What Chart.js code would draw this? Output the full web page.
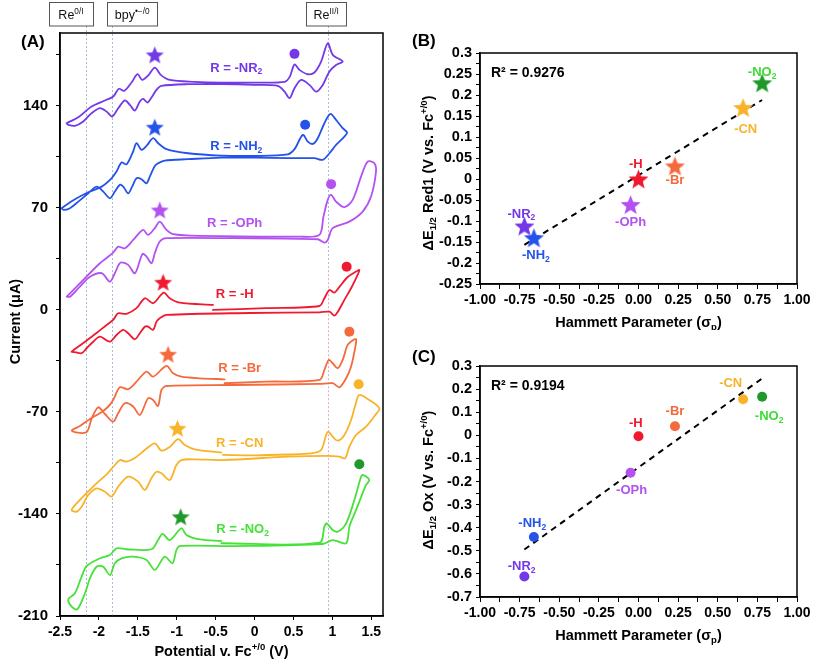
<!DOCTYPE html>
<html><head><meta charset="utf-8">
<script src="https://cdn.jsdelivr.net/npm/chart.js@4.4.1/dist/chart.umd.min.js"></script>
<style>
html,body{margin:0;padding:0;background:#fff;width:813px;height:663px;overflow:hidden}
canvas{position:absolute}
#cA{left:0;top:0}#cB{left:400px;top:0}#cC{left:400px;top:330px}
</style></head><body>
<canvas id="cA" width="400" height="663"></canvas>
<canvas id="cB" width="413" height="330"></canvas>
<canvas id="cC" width="413" height="333"></canvas>
<script>
// ---------- Panel A : cyclic voltammograms, [potential (V vs Fc+/0), current (µA)] ----------
const cvNR2 = [[-2.415,128.1],[-2.265,132.2],[-2.094,139.5],[-1.923,143.7],[-1.816,146.4],[-1.744,151.7],[-1.675,150.3],[-1.581,156.0],[-1.504,161.7],[-1.444,157.8],[-1.368,160.8],[-1.282,166.3],[-1.205,161.3],[-1.090,157.8],[-0.769,156.5],[-0.427,156.0],[0.0,156.0],[0.385,156.5],[0.453,160.1],[0.513,168.4],[0.577,164.7],[0.684,161.7],[0.769,162.9],[0.855,170.4],[0.940,183.0],[1.004,175.0],[1.132,170.4],[1.047,168.1],[0.962,163.6],[0.876,154.4],[0.791,149.8],[0.705,154.4],[0.598,157.8],[0.513,152.1],[0.449,145.3],[0.385,149.8],[0.299,153.7],[0.0,154.4],[-0.427,154.9],[-0.855,154.9],[-1.197,153.7],[-1.261,151.0],[-1.316,146.4],[-1.376,142.3],[-1.432,144.8],[-1.474,143.0],[-1.538,136.8],[-1.603,140.7],[-1.667,143.7],[-1.752,138.4],[-1.829,132.7],[-1.902,136.1],[-1.987,138.4],[-2.094,135.0],[-2.201,129.3],[-2.308,126.3],[-2.393,127.0],[-2.415,128.1]];
const cvNH2 = [[-2.479,69.8],[-2.308,75.9],[-2.137,80.7],[-1.966,84.6],[-1.838,90.3],[-1.774,94.9],[-1.709,101.1],[-1.645,99.9],[-1.560,108.7],[-1.517,114.4],[-1.453,109.8],[-1.389,112.5],[-1.303,117.8],[-1.239,114.4],[-1.132,110.3],[-0.855,107.5],[-0.427,105.9],[0.0,105.7],[0.427,106.8],[0.513,110.3],[0.620,120.1],[0.684,115.5],[0.748,113.9],[0.812,117.8],[0.897,128.1],[0.974,134.5],[1.047,130.4],[1.132,124.7],[1.188,121.7],[1.154,118.9],[1.047,113.2],[0.962,107.5],[0.876,103.0],[0.769,104.1],[0.427,104.1],[0.0,104.5],[-0.427,104.5],[-0.855,103.4],[-1.154,102.5],[-1.239,100.6],[-1.282,98.8],[-1.346,91.5],[-1.389,86.9],[-1.453,89.7],[-1.517,90.3],[-1.573,84.6],[-1.624,80.0],[-1.688,84.6],[-1.731,85.8],[-1.795,81.2],[-1.859,76.6],[-1.944,81.2],[-2.030,84.6],[-2.137,80.0],[-2.265,74.3],[-2.372,69.8],[-2.457,68.6],[-2.479,69.8]];
const cvOPh = [[-2.414,9.1],[-2.201,20.6],[-1.987,32.0],[-1.817,39.3],[-1.753,43.4],[-1.667,42.3],[-1.560,48.0],[-1.432,54.9],[-1.368,51.5],[-1.282,56.1],[-1.218,60.6],[-1.132,54.9],[-1.047,52.0],[-0.705,50.8],[0.577,50.3],[0.833,51.5],[0.885,64.0],[0.940,75.5],[0.983,78.9],[1.047,74.3],[1.154,70.5],[1.260,75.5],[1.368,91.5],[1.453,101.8],[1.538,100.7],[1.560,94.9],[1.496,77.8],[1.389,67.5],[1.218,60.6],[1.004,56.1],[0.940,48.0],[0.897,46.2],[0.812,48.5],[-0.278,49.2],[-1.132,49.2],[-1.218,46.9],[-1.282,38.9],[-1.324,32.0],[-1.388,36.6],[-1.440,38.4],[-1.538,25.2],[-1.624,30.9],[-1.722,32.5],[-1.795,25.2],[-1.859,19.4],[-1.965,25.2],[-2.115,22.8],[-2.244,16.0],[-2.372,9.1],[-2.414,9.1]];
const cvH = [[-0.535,0.0],[0.150,1.2],[0.833,2.7],[0.897,8.0],[0.962,13.7],[1.026,11.9],[1.090,15.8],[1.196,22.6],[1.304,26.3],[1.346,27.4],[1.324,24.0],[1.240,14.9],[1.154,6.9],[1.068,-1.4],[1.026,-3.9],[0.962,-1.2],[0.833,-1.7],[-0.064,-2.1],[-1.132,-3.4],[-1.218,-5.7],[-1.260,-8.0],[-1.304,-13.7],[-1.368,-11.5],[-1.410,-11.5],[-1.474,-16.0],[-1.538,-20.1],[-1.624,-16.0],[-1.688,-13.7],[-1.773,-17.2],[-1.859,-21.8],[-1.987,-18.3],[-2.073,-21.8],[-2.158,-26.3],[-2.222,-29.7],[-2.308,-29.0],[-2.350,-28.6],[-2.201,-22.7],[-2.030,-15.8],[-1.901,-10.3],[-1.817,-6.9],[-1.753,-2.3],[-1.645,-2.7],[-1.517,1.2],[-1.410,8.0],[-1.304,4.6],[-1.167,11.9],[-1.090,8.0],[-0.962,5.0],[-0.535,3.4]];
const cvBr = [[-0.385,-50.3],[0.150,-49.2],[0.833,-48.0],[0.897,-41.2],[0.953,-34.3],[1.004,-36.6],[1.068,-40.0],[1.132,-34.3],[1.196,-24.0],[1.269,-20.6],[1.304,-20.1],[1.295,-25.2],[1.240,-38.9],[1.176,-46.9],[1.090,-53.1],[1.004,-50.3],[0.833,-50.8],[-0.278,-51.5],[-1.132,-52.2],[-1.196,-54.9],[-1.240,-65.9],[-1.304,-61.8],[-1.368,-60.6],[-1.474,-72.1],[-1.560,-66.3],[-1.667,-64.0],[-1.753,-70.9],[-1.817,-76.7],[-1.923,-71.4],[-2.009,-66.8],[-2.090,-74.1],[-2.154,-83.7],[-2.244,-84.4],[-2.350,-82.8],[-2.244,-79.6],[-2.115,-74.8],[-1.987,-70.9],[-1.885,-66.6],[-1.817,-61.8],[-1.731,-53.1],[-1.624,-54.4],[-1.517,-49.2],[-1.388,-42.3],[-1.304,-45.8],[-1.132,-38.4],[-1.047,-43.5],[-0.940,-45.8],[-0.705,-46.9],[-0.385,-47.6]];
const cvCN = [[-0.406,-99.5],[0.0,-99.8],[0.427,-99.2],[0.727,-98.4],[0.855,-96.1],[0.919,-85.8],[0.949,-83.5],[1.004,-87.0],[1.068,-89.7],[1.154,-85.8],[1.240,-75.5],[1.295,-65.2],[1.346,-58.3],[1.474,-61.8],[1.603,-67.5],[1.551,-72.1],[1.432,-80.1],[1.304,-85.8],[1.218,-93.8],[1.163,-101.8],[1.090,-100.7],[0.940,-100.2],[0.427,-100.7],[-0.406,-103.0],[-0.769,-102.5],[-0.940,-103.0],[-1.004,-106.4],[-1.090,-116.7],[-1.196,-112.1],[-1.260,-111.0],[-1.324,-115.3],[-1.410,-123.5],[-1.496,-117.8],[-1.624,-114.4],[-1.753,-121.3],[-1.837,-128.1],[-1.923,-124.7],[-2.030,-122.4],[-2.137,-127.0],[-2.222,-135.0],[-2.286,-138.4],[-2.350,-137.3],[-2.244,-130.4],[-2.051,-120.1],[-1.885,-111.9],[-1.795,-106.4],[-1.731,-103.0],[-1.645,-104.1],[-1.538,-101.6],[-1.410,-96.1],[-1.282,-91.5],[-1.196,-96.6],[-1.090,-94.0],[-0.983,-88.7],[-0.897,-92.7],[-0.769,-95.6],[-0.427,-97.9]];
const cvNO2 = [[-0.427,-160.1],[0.833,-159.7],[0.897,-148.7],[0.927,-146.4],[1.004,-151.0],[1.068,-152.2],[1.176,-146.4],[1.282,-130.4],[1.368,-114.4],[1.389,-113.2],[1.474,-116.7],[1.432,-120.1],[1.304,-137.3],[1.218,-148.7],[1.176,-160.1],[1.004,-157.9],[0.876,-160.6],[-0.278,-162.0],[-0.962,-162.0],[-1.004,-164.7],[-1.055,-173.8],[-1.154,-169.3],[-1.282,-178.4],[-1.388,-171.6],[-1.560,-169.3],[-1.709,-170.4],[-1.795,-173.8],[-1.859,-181.9],[-1.945,-176.2],[-2.030,-176.2],[-2.115,-184.1],[-2.179,-194.4],[-2.278,-205.4],[-2.350,-203.6],[-2.394,-198.6],[-2.308,-194.4],[-2.222,-183.0],[-2.158,-175.7],[-1.987,-170.4],[-1.859,-168.1],[-1.773,-163.6],[-1.645,-164.2],[-1.324,-164.2],[-1.240,-157.9],[-1.183,-153.7],[-1.090,-157.9],[-0.940,-149.8],[-0.876,-154.4],[-0.705,-157.4],[-0.427,-158.5]];
const red1PeakA = [[-1.282,175.0],[-1.282,125.4],[-1.218,68.6],[-1.175,19.0],[-1.111,-30.4],[-0.991,-81.2],[-0.949,-141.9]];
const oxPeakA = [[0.513,175.7],[0.650,127.0],[0.983,86.3],[1.183,29.7],[1.218,-14.9],[1.337,-51.0],[1.346,-105.9]];
const xTicksA = [-2.5,-2,-1.5,-1,-0.5,0,0.5,1,1.5];
const yTicksA = [-210,-175,-140,-105,-70,-35,0,35,70,105,140,175];
const refPotentials = [-2.17,-1.83,0.94];

// ---------- Panels B & C ----------
const substituents = ['-NR₂','-NH₂','-OPh','-H','-Br','-CN','-NO₂'];
const hammettSigmaP = [-0.72,-0.66,-0.05,0.00,0.23,0.66,0.78];
const dE12Red1 = [-0.112,-0.140,-0.061,0.000,0.031,0.170,0.229];
const dE12Ox = [-0.611,-0.440,-0.162,-0.004,0.039,0.156,0.167];
const r2Red1 = '0.9276';
const r2Ox = '0.9194';
const xTicksBC = [-1,-0.875,-0.75,-0.625,-0.5,-0.375,-0.25,-0.125,0,0.125,0.25,0.375,0.5,0.625,0.75,0.875,1];
const yTicksB = [-0.25,-0.225,-0.2,-0.175,-0.15,-0.125,-0.1,-0.075,-0.05,-0.025,0,0.025,0.05,0.075,0.1,0.125,0.15,0.175,0.2,0.225,0.25,0.275,0.3];
const yTicksC = [-0.7,-0.65,-0.6,-0.55,-0.5,-0.45,-0.4,-0.35,-0.3,-0.25,-0.2,-0.15,-0.1,-0.05,0,0.05,0.1,0.15,0.2,0.25,0.3];

// ---------- styles ----------
const FONT = "'Liberation Sans', Arial, Helvetica, sans-serif";
const seriesColors = ['#7338e8','#2452ea','#b352f0','#f01a30','#f56a3c','#f8b32a','#46e23a'];
const markerColors = ['#7338e8','#2452ea','#b352f0','#f01a30','#f56a3c','#f8b32a','#1f9a2a'];
const cvLabelAnchor = [[-0.235,166.6],[-0.235,112.5],[-0.256,59.9],[-0.256,11.0],[-0.192,-39.6],[-0.192,-91.1],[-0.154,-149.8]];
const labelOffsetB = [[-3,-13],[2,17],[0,16.5],[-2.6,-16],[0,14],[2.6,20.6],[0,-11]];
const labelOffsetC = [[-2.7,-11],[-1.6,-14],[1,16.6],[-2.6,-14],[0,-16],[-12.4,-16.3],[7,18.6]];
const refBoxes = [
  {label:['Re',['0/I','sup']], box:[-36.5,7]},
  {label:['bpy',['•−/0','sup']], box:[-5,45]},
  {label:['Re',['II/I','sup']], box:[-21.6,18.4]}
];

function richParts(s){const out=[];let buf='';for(const ch of s){if(ch==='₂'){if(buf)out.push(buf);buf='';out.push(['2','sub']);}else buf+=ch;}if(buf)out.push(buf);return out;}
function drawRich(ctx,parts,x,y,o){
  const size=o.size,weight=o.weight||'bold',align=o.align||'center';
  const segs=parts.map(p=>typeof p==='string'?{t:p,m:''}:{t:p[0],m:p[1]});
  let w=0;
  segs.forEach(s=>{s.fs=s.m?size*0.66:size;ctx.font=`${weight} ${s.fs}px ${FONT}`;s.w=ctx.measureText(s.t).width;w+=s.w;});
  let cx=align==='center'?x-w/2:align==='right'?x-w:x;
  ctx.fillStyle=o.color||'#000';ctx.textAlign='left';ctx.textBaseline='alphabetic';
  segs.forEach(s=>{ctx.font=`${weight} ${s.fs}px ${FONT}`;const dy=s.m==='sup'?-size*0.4:s.m==='sub'?size*0.22:0;ctx.fillText(s.t,cx,y+dy);cx+=s.w;});
  return w;
}
function drawRichRot(ctx,parts,cx,cy,o){ctx.save();ctx.translate(cx+o.size*0.36,cy);ctx.rotate(-Math.PI/2);drawRich(ctx,parts,0,0,o);ctx.restore();}
function frame(ctx,a){ctx.save();ctx.strokeStyle='#000';ctx.lineWidth=1.5;ctx.strokeRect(a.left,a.top,a.right-a.left,a.bottom-a.top);ctx.restore();}
function starImage(color,R){
  const s=Math.ceil(2*R+2);const c=document.createElement('canvas');c.width=s;c.height=s;
  const g=c.getContext('2d');g.translate(s/2,s/2+R*0.095);g.beginPath();
  for(let i=0;i<10;i++){const r=i%2?R*0.43:R;const a=-Math.PI/2+i*Math.PI/5;g.lineTo(r*Math.cos(a),r*Math.sin(a));}
  g.closePath();g.fillStyle=color;g.fill();return c;
}
function linFit(xs,ys){const n=xs.length;const mx=xs.reduce((a,b)=>a+b)/n,my=ys.reduce((a,b)=>a+b)/n;let sxy=0,sxx=0;for(let i=0;i<n;i++){sxy+=(xs[i]-mx)*(ys[i]-my);sxx+=(xs[i]-mx)**2;}const m=sxy/sxx;return {m,b:my-m*mx};}
const pts=arr=>arr.map(([x,y])=>({x,y}));
const tickFont=(s)=>({family:FONT,size:s,weight:'bold'});
const common={responsive:false,animation:false,events:[],plugins:{legend:{display:false},tooltip:{enabled:false}}};

// ---------- Chart A ----------
const cvData=[cvNR2,cvNH2,cvOPh,cvH,cvBr,cvCN,cvNO2];
const dsA=[
  {data:pts(red1PeakA),pointStyle:markerColors.map(c=>starImage(c,9.5)),pointRadius:9,showLine:false},
  {data:pts(oxPeakA),pointStyle:'circle',pointRadius:5,pointBackgroundColor:markerColors,pointBorderWidth:0,showLine:false}
];
cvData.forEach((d,i)=>dsA.push({data:pts(d),showLine:true,borderColor:seriesColors[i],borderWidth:1.8,pointRadius:0,tension:0.3,fill:false,borderJoinStyle:'round',borderCapStyle:'round'}));
const pluginA={id:'annA',
  beforeDatasetsDraw(chart){
    const {ctx,chartArea:a,scales:{x,y}}=chart;
    refPotentials.forEach((v,i)=>{
      const px=Math.round(x.getPixelForValue(v))+0.5;
      ctx.save();ctx.setLineDash([2,2]);ctx.lineWidth=1;
      const segs=i===2?[[26,y.getPixelForValue(30),'#a9bcd6'],[y.getPixelForValue(30),y.getPixelForValue(-125),'#e2aac6'],[y.getPixelForValue(-125),a.bottom,'#a9bcd6']]:[[26,a.bottom,'#a9bcd6']];
      segs.forEach(([y0,y1,c])=>{ctx.strokeStyle=c;ctx.beginPath();ctx.moveTo(px,y0);ctx.lineTo(px,y1);ctx.stroke();});
      ctx.restore();
    });
  },
  afterDraw(chart){
    const {ctx,chartArea:a,scales:{x,y}}=chart;
    frame(ctx,a);
    refPotentials.forEach((v,i)=>{
      const px=x.getPixelForValue(v);const b=refBoxes[i];const bx=px+b.box[0],bw=b.box[1]-b.box[0];
      ctx.save();ctx.fillStyle='#fff';ctx.fillRect(bx,2,bw,24);ctx.strokeStyle='#555';ctx.lineWidth=1;ctx.strokeRect(Math.round(bx)+0.5,2.5,Math.round(bw),23.5);ctx.restore();
      drawRich(ctx,b.label,bx+bw/2,19,{size:12.5,weight:'normal',color:'#111'});
    });
    cvLabelAnchor.forEach((p,i)=>{
      drawRich(ctx,richParts('R = '+substituents[i]),x.getPixelForValue(p[0]),y.getPixelForValue(p[1])+4.5,{size:13,color:seriesColors[i]});
    });
    drawRich(ctx,['(A)'],21,47,{size:17,align:'left'});
    drawRichRot(ctx,['Current (μA)'],15,(a.top+a.bottom)/2-3,{size:14.5});
    drawRich(ctx,['Potential v. Fc',['+/0','sup'],' (V)'],(a.left+a.right)/2,656,{size:14.5});
  }
};
new Chart(document.getElementById('cA'),{type:'scatter',data:{datasets:dsA},plugins:[pluginA],
  options:{...common,layout:{padding:{left:0,top:33,right:17,bottom:0}},
    scales:{
      x:{type:'linear',min:-2.5,max:1.65,
        afterBuildTicks:s=>{s.ticks=xTicksA.map(v=>({value:v}));},
        afterFit:s=>{s.height=47;s.paddingLeft=0;s.paddingRight=0;},
        ticks:{font:tickFont(14),color:'#000',padding:4,maxRotation:0,autoSkip:false,callback:v=>String(v)},
        grid:{drawOnChartArea:false,drawTicks:true,tickLength:4,color:'#000'},
        border:{display:true,color:'#000',width:1.5}},
      y:{type:'linear',min:-210,max:190,
        afterBuildTicks:s=>{s.ticks=yTicksA.map(v=>({value:v}));},
        afterFit:s=>{s.width=60;s.paddingTop=0;s.paddingBottom=0;},
        ticks:{font:tickFont(15),color:'#000',padding:8,autoSkip:false,callback:v=>(v%70===0?String(v):'')},
        grid:{drawOnChartArea:false,drawTicks:true,tickLength:4,color:'#000'},
        border:{display:true,color:'#000',width:1.5}}
    }}});

// ---------- Charts B & C ----------
function scatterPanel(id,yVals,yTicks,yMin,yMax,pad,xH,markerStyle,offsets,letter,letterY,r2,yTitle,titleCY,xTitleY){
  const fit=linFit(hammettSigmaP,yVals);
  const x0=Math.min(...hammettSigmaP),x1=Math.max(...hammettSigmaP);
  const ds=[
    Object.assign({data:hammettSigmaP.map((s,i)=>({x:s,y:yVals[i]})),showLine:false},markerStyle),
    {data:[{x:x0,y:fit.m*x0+fit.b},{x:x1,y:fit.m*x1+fit.b}],showLine:true,borderColor:'#000',borderWidth:2,borderDash:[6,5],pointRadius:0,tension:0}
  ];
  const plug={id:'ann'+id,afterDraw(chart){
    const {ctx,chartArea:a,scales:{x,y}}=chart;
    frame(ctx,a);
    hammettSigmaP.forEach((s,i)=>{
      const col=i===6?'#3cdc32':seriesColors[i];
      drawRich(ctx,richParts(substituents[i]),x.getPixelForValue(s)+offsets[i][0],y.getPixelForValue(yVals[i])+offsets[i][1]+4.5,{size:13,color:col});
    });
    drawRich(ctx,[letter],12,letterY,{size:17,align:'left'});
    drawRich(ctx,['R² = '+r2],a.left+11,a.top+24,{size:14,align:'left'});
    drawRichRot(ctx,yTitle,28,titleCY,{size:14.5});
    drawRich(ctx,['Hammett Parameter (σ',['p','sub'],')'],(a.left+a.right)/2,xTitleY,{size:14.5});
  }};
  new Chart(document.getElementById(id),{type:'scatter',data:{datasets:ds},plugins:[plug],
    options:{...common,layout:{padding:pad},
      scales:{
        x:{type:'linear',min:-1,max:1,
          afterBuildTicks:s=>{s.ticks=xTicksBC.map(v=>({value:v}));},
          afterFit:s=>{s.height=xH;s.paddingLeft=0;s.paddingRight=0;},
          ticks:{font:tickFont(14),color:'#000',padding:3,maxRotation:0,autoSkip:false,callback:(v,i)=>(i%2===0?v.toFixed(2):'')},
          grid:{drawOnChartArea:false,drawTicks:true,tickLength:5,color:'#000'},
          border:{display:true,color:'#000',width:1.5}},
        y:{type:'linear',min:yMin,max:yMax,
          afterBuildTicks:s=>{s.ticks=yTicks.map(v=>({value:v}));},
          afterFit:s=>{s.width=80;s.paddingTop=0;s.paddingBottom=0;},
          ticks:{font:tickFont(14.5),color:'#000',padding:4,autoSkip:false,callback:(v,i)=>(i%2===0?String(parseFloat(v.toFixed(3))+0):'')},
          grid:{drawOnChartArea:false,drawTicks:true,tickLength:4,color:'#000'},
          border:{display:true,color:'#000',width:1.5}}
      }}});
}
scatterPanel('cB',dE12Red1,yTicksB,-0.25,0.3,{left:0,top:53,right:16,bottom:0},46,
  {pointStyle:markerColors.map(c=>starImage(c,10.5)),pointRadius:10},labelOffsetB,'(B)',46,r2Red1,
  ['ΔE',['1/2','sub'],' Red1 (V vs. Fc',['+/0','sup'],')'],173,327);
scatterPanel('cC',dE12Ox,yTicksC,-0.7,0.3,{left:0,top:36,right:16,bottom:0},66,
  {pointStyle:'circle',pointRadius:5,pointBackgroundColor:markerColors,pointBorderWidth:0},labelOffsetC,'(C)',32,r2Ox,
  ['ΔE',['1/2','sub'],' Ox (V vs. Fc',['+/0','sup'],')'],150,310);
</script></body></html>
